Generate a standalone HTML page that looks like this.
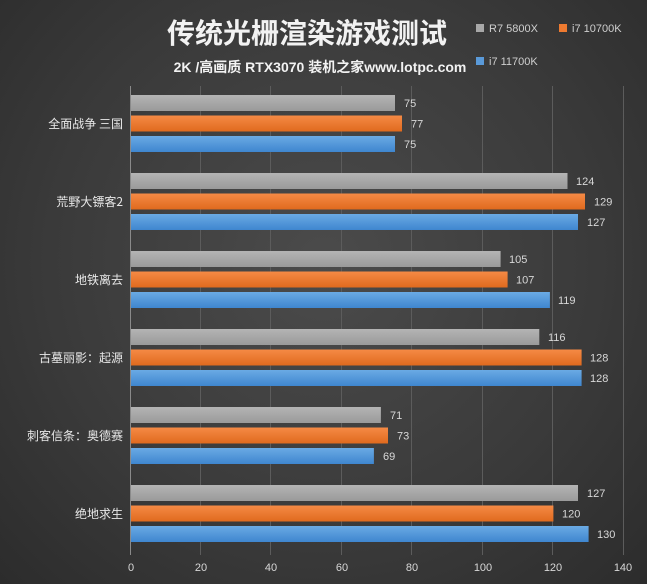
<!DOCTYPE html>
<html><head><meta charset="utf-8"><style>
body{margin:0;width:647px;height:584px;overflow:hidden;background:radial-gradient(ellipse at 50% 45%,#4b4b4b 0%,#3a3a3a 60%,#2c2c2c 100%);font-family:"Liberation Sans","Noto Sans CJK SC",sans-serif;}
</style></head><body>
<svg width="647" height="584" xmlns="http://www.w3.org/2000/svg" style="position:absolute;left:0;top:0">
<defs>
<linearGradient id="g" x1="0" y1="0" x2="0" y2="1"><stop offset="0" stop-color="#b4b4b4"/><stop offset="1" stop-color="#9a9a9a"/></linearGradient>
<linearGradient id="o" x1="0" y1="0" x2="0" y2="1"><stop offset="0" stop-color="#f58a45"/><stop offset="1" stop-color="#e06a1e"/></linearGradient>
<linearGradient id="b" x1="0" y1="0" x2="0" y2="1"><stop offset="0" stop-color="#6aaae4"/><stop offset="1" stop-color="#3f86cf"/></linearGradient>
</defs>
<text x="307" y="43" text-anchor="middle" font-size="28" font-weight="bold" fill="#f2f2f2" font-family="Noto Sans CJK SC,sans-serif">传统光栅渲染游戏测试</text>
<text x="320" y="72" text-anchor="middle" font-size="14" font-weight="bold" fill="#f2f2f2" font-family="Liberation Sans,Noto Sans CJK SC,sans-serif">2K /高画质 RTX3070 装机之家www.lotpc.com</text>
<rect x="476" y="24" width="8" height="8" fill="#a8a8a8"/><text x="489" y="32" font-size="11" fill="#cfcfcf">R7 5800X</text>
<rect x="559" y="24" width="8" height="8" fill="#ee7a30"/><text x="572" y="32" font-size="11" fill="#cfcfcf">i7 10700K</text>
<rect x="476" y="57" width="8" height="8" fill="#5a9ad9"/><text x="489" y="65" font-size="11" fill="#cfcfcf">i7 11700K</text>
<g stroke="#5c5c5c" stroke-width="1">
<line x1="200.5" y1="86" x2="200.5" y2="555"/><line x1="270.5" y1="86" x2="270.5" y2="555"/><line x1="341.5" y1="86" x2="341.5" y2="555"/><line x1="411.5" y1="86" x2="411.5" y2="555"/><line x1="482.5" y1="86" x2="482.5" y2="555"/><line x1="552.5" y1="86" x2="552.5" y2="555"/><line x1="623.5" y1="86" x2="623.5" y2="555"/>
</g>
<line x1="130.5" y1="86" x2="130.5" y2="555" stroke="#8a8a8a"/>
<g font-size="11" fill="#d8d8d8" text-anchor="middle">
<text x="131" y="571">0</text><text x="201" y="571">20</text><text x="271" y="571">40</text><text x="342" y="571">60</text><text x="412" y="571">80</text><text x="483" y="571">100</text><text x="553" y="571">120</text><text x="623" y="571">140</text>
</g>
<g font-size="12" fill="#e8e8e8" text-anchor="end" font-family="Noto Sans CJK SC,sans-serif">
<text x="123" y="128">全面战争 三国</text>
<text x="123" y="206">荒野大镖客2</text>
<text x="123" y="284">地铁离去</text>
<text x="123" y="362">古墓丽影：起源</text>
<text x="123" y="440">刺客信条：奥德赛</text>
<text x="123" y="518">绝地求生</text>
</g>
<g>
<rect x="131" y="95" width="264" height="16" fill="url(#g)"/>
<rect x="131" y="115.5" width="271" height="16" fill="url(#o)"/>
<rect x="131" y="136" width="264" height="16" fill="url(#b)"/>
<rect x="131" y="173" width="436.5" height="16" fill="url(#g)"/>
<rect x="131" y="193.5" width="454" height="16" fill="url(#o)"/>
<rect x="131" y="214" width="447" height="16" fill="url(#b)"/>
<rect x="131" y="251" width="369.6" height="16" fill="url(#g)"/>
<rect x="131" y="271.5" width="376.6" height="16" fill="url(#o)"/>
<rect x="131" y="292" width="418.9" height="16" fill="url(#b)"/>
<rect x="131" y="329" width="408.3" height="16" fill="url(#g)"/>
<rect x="131" y="349.5" width="450.6" height="16" fill="url(#o)"/>
<rect x="131" y="370" width="450.6" height="16" fill="url(#b)"/>
<rect x="131" y="407" width="249.9" height="16" fill="url(#g)"/>
<rect x="131" y="427.5" width="257" height="16" fill="url(#o)"/>
<rect x="131" y="448" width="242.9" height="16" fill="url(#b)"/>
<rect x="131" y="485" width="447" height="16" fill="url(#g)"/>
<rect x="131" y="505.5" width="422.4" height="16" fill="url(#o)"/>
<rect x="131" y="526" width="457.6" height="16" fill="url(#b)"/>
</g>
<g font-size="11" fill="#d8d8d8">
<text x="404" y="107">75</text><text x="411" y="127.5">77</text><text x="404" y="148">75</text>
<text x="576" y="185">124</text><text x="594" y="205.5">129</text><text x="587" y="226">127</text>
<text x="509" y="263">105</text><text x="516" y="283.5">107</text><text x="558" y="304">119</text>
<text x="548" y="341">116</text><text x="590" y="361.5">128</text><text x="590" y="382">128</text>
<text x="390" y="419">71</text><text x="397" y="439.5">73</text><text x="383" y="460">69</text>
<text x="587" y="497">127</text><text x="562" y="517.5">120</text><text x="597" y="538">130</text>
</g>
</svg>
</body></html>
